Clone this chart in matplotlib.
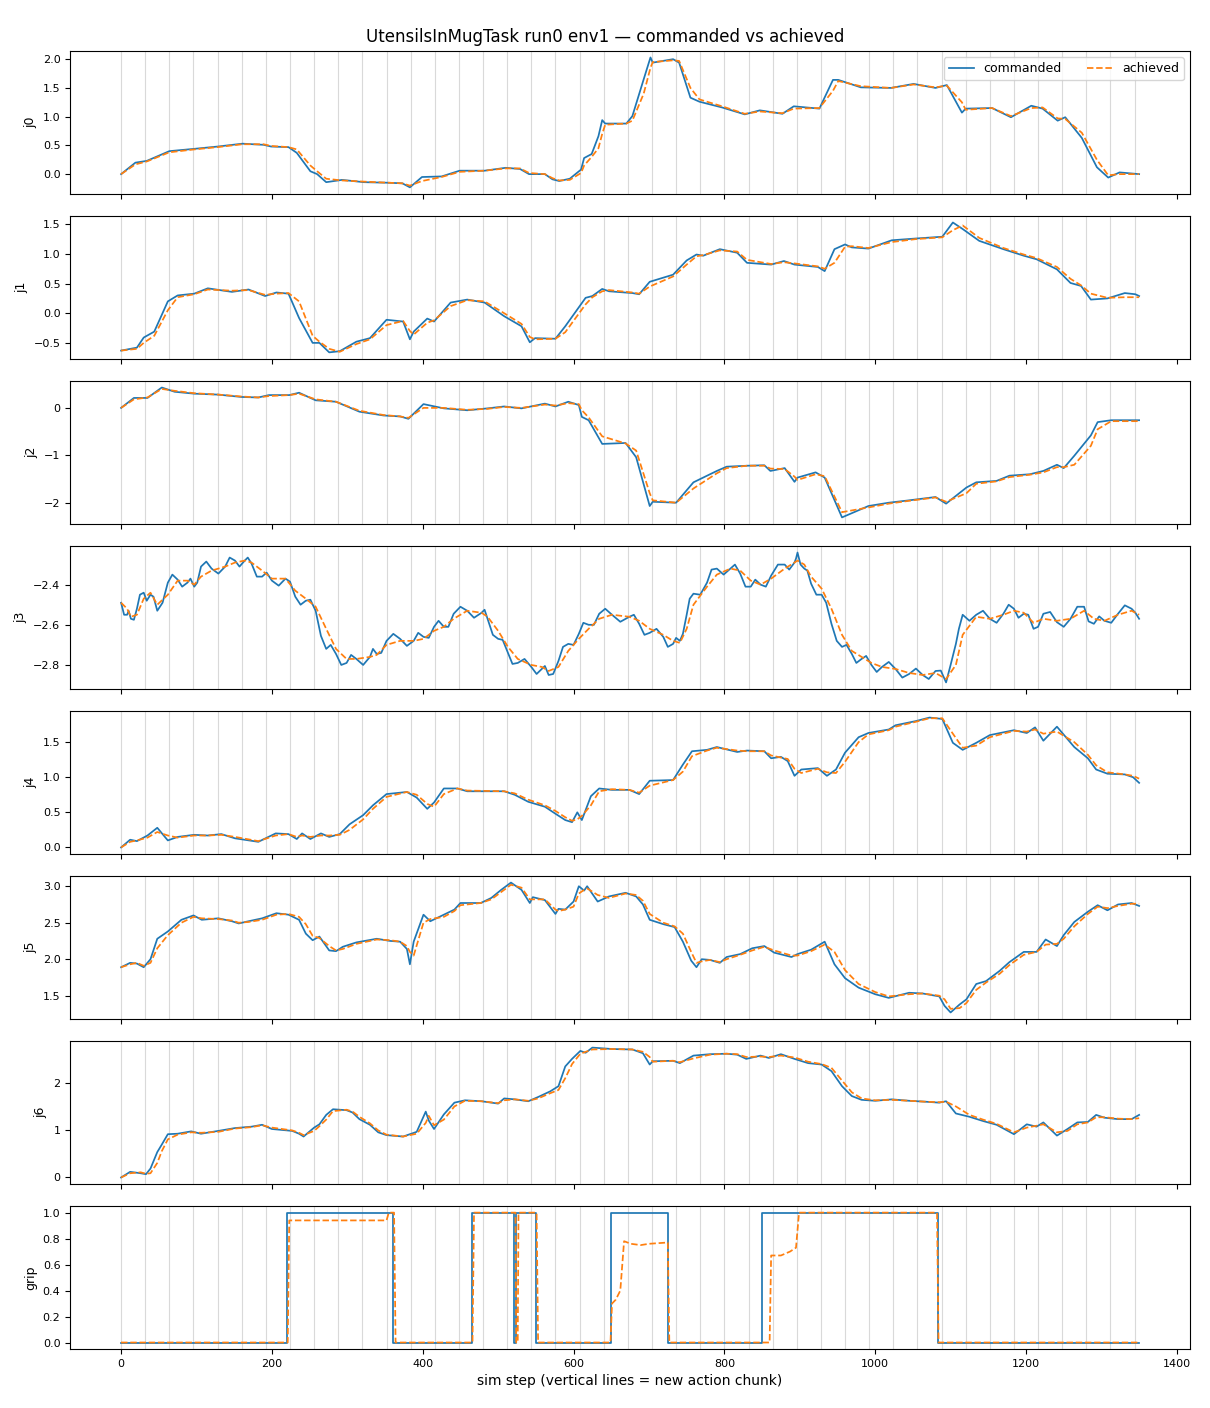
import numpy as np
import matplotlib
matplotlib.use("Agg")
import matplotlib.pyplot as plt

TITLE = "UtensilsInMugTask run0 env1 \u2014 commanded vs achieved"
XLABEL = "sim step (vertical lines = new action chunk)"
LABELS = ["j0", "j1", "j2", "j3", "j4", "j5", "j6", "grip"]
CHUNK = 32
N_STEPS = 1350

j0_steps = [0,19,34,64,97,128,161,189,199,222,233,251,260,272,293,322,355,373,383,399,425,449,482,510,529,541,562,572,581,595,610,614,624,633,638,642,670,678,693,702,705,732,740,755,767,797,827,847,877,892,926,944,951,981,1021,1051,1080,1095,1115,1120,1155,1180,1207,1222,1242,1252,1274,1294,1309,1324,1350]
j0_cmd = [0.0,0.20,0.23,0.40,0.44,0.48,0.53,0.51,0.48,0.47,0.37,0.05,0.0,-0.14,-0.10,-0.14,-0.15,-0.16,-0.23,-0.05,-0.04,0.06,0.06,0.11,0.09,0.0,0.0,-0.09,-0.12,-0.08,0.08,0.28,0.35,0.66,0.94,0.88,0.88,1.01,1.65,2.03,1.94,2.0,1.94,1.33,1.26,1.16,1.04,1.11,1.05,1.18,1.14,1.64,1.64,1.51,1.50,1.57,1.50,1.55,1.07,1.14,1.15,0.99,1.19,1.14,0.93,0.99,0.63,0.12,-0.06,0.03,0.0]
j0_ach = [0.0,0.17,0.22,0.38,0.43,0.47,0.52,0.52,0.49,0.47,0.43,0.15,0.05,-0.08,-0.11,-0.13,-0.15,-0.16,-0.20,-0.12,-0.05,0.04,0.06,0.10,0.10,0.02,0.0,-0.07,-0.11,-0.10,0.02,0.15,0.30,0.45,0.70,0.86,0.88,0.93,1.40,1.85,1.95,1.98,1.97,1.50,1.30,1.18,1.05,1.09,1.06,1.14,1.15,1.45,1.62,1.53,1.50,1.56,1.51,1.54,1.25,1.12,1.15,1.01,1.15,1.16,0.97,0.96,0.72,0.25,-0.02,0.0,0.0]

j1_steps = [0,21,30,44,62,75,97,115,147,169,191,206,222,236,254,263,276,290,312,330,352,374,383,388,406,415,437,459,482,508,531,542,549,576,589,616,625,638,647,678,687,701,732,750,763,772,794,817,830,862,879,893,924,933,946,960,969,991,1022,1054,1089,1103,1116,1138,1170,1197,1214,1241,1259,1273,1286,1308,1331,1345,1350]
j1_cmd = [-0.63,-0.58,-0.41,-0.31,0.20,0.30,0.33,0.42,0.36,0.40,0.29,0.35,0.33,-0.08,-0.50,-0.50,-0.66,-0.64,-0.48,-0.42,-0.11,-0.14,-0.44,-0.31,-0.09,-0.14,0.18,0.23,0.18,-0.05,-0.22,-0.49,-0.42,-0.43,-0.22,0.26,0.29,0.41,0.37,0.34,0.32,0.53,0.65,0.89,0.99,0.97,1.08,1.02,0.85,0.82,0.88,0.82,0.78,0.71,1.08,1.16,1.11,1.09,1.23,1.26,1.29,1.53,1.42,1.22,1.08,0.97,0.91,0.74,0.51,0.46,0.23,0.25,0.34,0.32,0.29]
j1_ach = [-0.63,-0.60,-0.50,-0.38,0.05,0.27,0.32,0.40,0.38,0.39,0.31,0.33,0.34,0.20,-0.38,-0.48,-0.60,-0.65,-0.52,-0.44,-0.20,-0.13,-0.30,-0.36,-0.16,-0.12,0.12,0.22,0.20,0.0,-0.18,-0.40,-0.44,-0.43,-0.32,0.15,0.27,0.37,0.39,0.35,0.33,0.45,0.62,0.82,0.96,0.98,1.06,1.04,0.90,0.83,0.86,0.84,0.79,0.75,0.85,1.12,1.13,1.10,1.20,1.25,1.28,1.40,1.48,1.27,1.10,0.99,0.93,0.78,0.58,0.47,0.33,0.26,0.27,0.27,0.27]

j2_steps = [0,17,35,54,71,97,129,160,182,196,223,236,258,285,316,348,370,381,401,428,459,486,508,531,562,576,593,607,611,620,638,669,683,701,705,736,759,790,803,830,853,861,880,893,897,921,933,956,991,1018,1045,1080,1094,1121,1134,1161,1178,1205,1223,1241,1250,1264,1286,1295,1313,1350]
j2_cmd = [0.0,0.21,0.21,0.43,0.34,0.30,0.28,0.23,0.22,0.27,0.27,0.32,0.16,0.13,-0.08,-0.16,-0.18,-0.23,0.08,-0.01,-0.05,-0.01,0.03,-0.01,0.09,0.03,0.13,0.06,-0.19,-0.26,-0.76,-0.74,-1.04,-2.07,-1.98,-2.0,-1.57,-1.33,-1.24,-1.22,-1.21,-1.33,-1.27,-1.56,-1.47,-1.36,-1.47,-2.31,-2.07,-2.00,-1.95,-1.88,-2.02,-1.68,-1.57,-1.54,-1.43,-1.40,-1.33,-1.20,-1.27,-1.01,-0.58,-0.30,-0.26,-0.26]
j2_ach = [0.0,0.18,0.22,0.40,0.36,0.31,0.28,0.24,0.22,0.25,0.27,0.30,0.18,0.13,-0.06,-0.15,-0.18,-0.21,0.0,0.0,-0.04,-0.02,0.02,0.0,0.07,0.05,0.10,0.08,-0.05,-0.20,-0.60,-0.75,-0.90,-1.80,-1.95,-2.0,-1.70,-1.38,-1.27,-1.22,-1.22,-1.28,-1.29,-1.45,-1.52,-1.40,-1.44,-2.20,-2.10,-2.02,-1.96,-1.89,-1.98,-1.80,-1.60,-1.55,-1.46,-1.41,-1.36,-1.25,-1.25,-1.20,-0.80,-0.45,-0.28,-0.28]

j3_cmd_steps = [0,4,8,10,13,17,21,25,30,34,39,43,48,55,62,68,75,81,88,92,97,101,106,113,120,129,138,144,151,157,164,168,173,180,187,193,200,209,218,224,231,238,245,251,258,265,272,278,285,292,299,305,312,321,330,334,339,345,352,361,370,379,388,394,401,408,415,421,428,434,441,450,459,468,478,482,486,493,500,506,513,519,526,535,544,551,558,562,567,573,580,586,593,600,607,613,620,627,634,642,651,662,674,680,687,694,701,710,719,725,732,736,741,745,750,754,759,768,777,783,790,799,808,814,821,828,835,841,848,855,862,871,880,886,893,895,897,901,906,910,915,922,929,935,942,949,956,962,969,975,982,988,995,1002,1009,1018,1027,1036,1045,1054,1063,1071,1080,1087,1094,1100,1107,1111,1116,1125,1134,1143,1152,1161,1170,1177,1184,1190,1197,1203,1210,1216,1223,1232,1241,1250,1259,1268,1277,1283,1290,1297,1304,1313,1322,1331,1340,1345,1350]
j3_cmd = [-2.49,-2.55,-2.55,-2.53,-2.57,-2.575,-2.52,-2.45,-2.44,-2.48,-2.45,-2.46,-2.53,-2.49,-2.39,-2.35,-2.375,-2.41,-2.39,-2.37,
          -2.41,-2.39,-2.31,-2.285,-2.32,-2.345,-2.31,-2.265,-2.28,-2.31,-2.28,-2.265,-2.295,-2.36,-2.36,-2.34,-2.38,-2.405,-2.37,-2.385,
          -2.46,-2.50,-2.48,-2.475,-2.53,-2.655,-2.72,-2.70,-2.745,-2.80,-2.79,-2.75,-2.77,-2.80,-2.76,-2.72,-2.745,-2.74,-2.68,-2.645,
          -2.67,-2.705,-2.68,-2.64,-2.66,-2.665,-2.61,-2.58,-2.61,-2.61,-2.545,-2.51,-2.53,-2.565,-2.54,-2.525,-2.57,-2.65,-2.67,-2.675,
          -2.74,-2.795,-2.79,-2.77,-2.81,-2.845,-2.82,-2.805,-2.85,-2.845,-2.78,-2.71,-2.695,-2.70,-2.645,-2.59,-2.60,-2.60,-2.545,-2.52,
          -2.55,-2.585,-2.56,-2.55,-2.595,-2.65,-2.64,-2.62,-2.66,-2.71,-2.695,-2.665,-2.68,-2.645,-2.55,-2.47,-2.445,-2.45,-2.39,-2.325,
          -2.32,-2.35,-2.32,-2.30,-2.345,-2.41,-2.41,-2.375,-2.40,-2.41,-2.355,-2.30,-2.30,-2.325,-2.29,-2.27,-2.24,-2.30,-2.32,-2.33,
          -2.395,-2.45,-2.45,-2.49,-2.595,-2.68,-2.71,-2.70,-2.745,-2.79,-2.77,-2.755,-2.80,-2.835,-2.81,-2.785,-2.82,-2.863,-2.845,-2.818,
          -2.85,-2.87,-2.83,-2.828,-2.887,-2.80,-2.695,-2.62,-2.55,-2.58,-2.55,-2.53,-2.57,-2.59,-2.545,-2.50,-2.52,-2.565,-2.545,-2.55,
          -2.62,-2.61,-2.545,-2.536,-2.587,-2.61,-2.57,-2.51,-2.51,-2.583,-2.595,-2.558,-2.58,-2.59,-2.545,-2.503,-2.52,-2.54,-2.57]
j3_ach_steps = [0,8,13,21,30,39,48,62,75,88,97,106,120,138,151,164,173,187,200,218,231,245,258,272,285,299,312,330,339,352,370,388,401,415,428,441,459,478,486,500,513,526,544,558,567,580,593,607,620,634,651,674,687,701,719,732,741,750,759,777,790,808,821,835,848,862,880,893,897,906,915,929,942,956,969,982,995,1009,1027,1045,1063,1080,1094,1107,1116,1134,1152,1170,1184,1197,1210,1223,1241,1259,1277,1290,1304,1322,1340,1350]
j3_ach = [-2.49,-2.52,-2.56,-2.55,-2.47,-2.44,-2.50,-2.45,-2.38,-2.38,
          -2.40,-2.36,-2.33,-2.31,-2.29,-2.28,-2.29,-2.33,-2.37,-2.37,
          -2.43,-2.47,-2.51,-2.62,-2.72,-2.77,-2.77,-2.76,-2.75,-2.70,
          -2.68,-2.68,-2.67,-2.63,-2.61,-2.57,-2.53,-2.54,-2.56,-2.63,
          -2.71,-2.77,-2.80,-2.81,-2.83,-2.81,-2.73,-2.67,-2.62,-2.57,
          -2.55,-2.56,-2.58,-2.62,-2.65,-2.68,-2.69,-2.62,-2.50,-2.41,
          -2.35,-2.32,-2.33,-2.38,-2.40,-2.37,-2.32,-2.29,-2.28,-2.30,
          -2.36,-2.42,-2.52,-2.65,-2.73,-2.76,-2.79,-2.81,-2.82,-2.84,
          -2.85,-2.84,-2.87,-2.80,-2.65,-2.56,-2.57,-2.55,-2.53,-2.54,
          -2.59,-2.57,-2.58,-2.57,-2.53,-2.57,-2.58,-2.55,-2.53,-2.55]

j4_steps = [0,12,21,35,48,62,75,97,115,133,151,182,205,222,233,240,251,265,276,290,303,321,334,352,379,392,406,415,428,446,459,508,522,540,562,576,589,598,605,611,623,634,651,674,687,701,732,745,757,777,790,817,830,853,862,875,884,893,902,924,936,948,960,978,991,1018,1027,1054,1072,1089,1103,1116,1134,1152,1184,1201,1212,1223,1241,1264,1282,1293,1308,1331,1342,1350]
j4_cmd = [0.0,0.11,0.09,0.17,0.28,0.10,0.15,0.18,0.17,0.19,
          0.13,0.08,0.20,0.19,0.12,0.20,0.12,0.20,0.15,0.19,
          0.33,0.46,0.60,0.76,0.79,0.71,0.55,0.64,0.84,0.84,
          0.80,0.80,0.75,0.65,0.58,0.48,0.39,0.36,0.50,0.39,
          0.73,0.84,0.82,0.82,0.76,0.95,0.96,1.18,1.37,1.39,
          1.43,1.36,1.38,1.37,1.27,1.29,1.23,1.02,1.11,1.13,
          1.02,1.11,1.35,1.57,1.63,1.68,1.74,1.80,1.85,1.83,
          1.49,1.39,1.49,1.60,1.67,1.63,1.71,1.52,1.72,1.43,
          1.27,1.11,1.05,1.04,1.00,0.92]
j4_ach = [0.0,0.08,0.10,0.14,0.22,0.17,0.14,0.17,0.17,0.18,
          0.15,0.09,0.17,0.19,0.15,0.17,0.15,0.17,0.17,0.18,
          0.25,0.40,0.55,0.72,0.79,0.75,0.62,0.58,0.76,0.84,
          0.81,0.80,0.77,0.68,0.60,0.52,0.43,0.38,0.40,0.45,
          0.60,0.80,0.83,0.82,0.78,0.88,0.96,1.08,1.30,1.38,
          1.42,1.38,1.37,1.37,1.31,1.28,1.26,1.12,1.06,1.12,
          1.07,1.06,1.22,1.50,1.61,1.67,1.72,1.79,1.84,1.84,
          1.62,1.42,1.45,1.57,1.66,1.65,1.68,1.62,1.65,1.50,
          1.32,1.17,1.07,1.04,1.02,0.98]

j5_steps = [0,12,21,30,39,48,62,80,96,107,129,147,156,169,187,206,222,236,245,254,263,276,285,294,312,339,357,370,379,383,388,401,410,428,442,450,477,491,504,517,531,542,546,562,576,580,589,600,607,614,618,632,647,669,683,692,701,719,734,745,756,763,770,781,794,803,821,837,853,866,889,897,915,933,946,960,978,1000,1018,1045,1063,1085,1092,1100,1112,1121,1134,1147,1165,1178,1197,1214,1226,1241,1250,1264,1282,1295,1308,1322,1340,1350]
j5_cmd = [1.89,1.95,1.94,1.89,2.00,2.28,2.38,2.54,2.60,2.54,
          2.56,2.52,2.49,2.52,2.56,2.63,2.61,2.54,2.35,2.26,
          2.31,2.12,2.11,2.17,2.23,2.28,2.25,2.24,2.14,1.93,
          2.24,2.61,2.52,2.61,2.68,2.77,2.77,2.84,2.95,3.05,
          2.95,2.77,2.85,2.81,2.62,2.69,2.68,2.79,3.00,2.94,
          3.00,2.79,2.86,2.91,2.86,2.75,2.54,2.48,2.44,2.24,
          1.98,1.89,2.00,1.99,1.95,2.03,2.07,2.15,2.18,2.09,
          2.03,2.07,2.13,2.24,1.93,1.74,1.61,1.52,1.47,1.54,
          1.53,1.49,1.36,1.27,1.38,1.45,1.66,1.70,1.84,1.96,
          2.10,2.10,2.27,2.18,2.33,2.51,2.65,2.74,2.67,2.75,
          2.77,2.73]
j5_ach = [1.89,1.93,1.95,1.91,1.95,2.15,2.33,2.50,2.58,2.56,
          2.55,2.53,2.50,2.51,2.54,2.61,2.62,2.58,2.48,2.32,
          2.29,2.18,2.12,2.14,2.21,2.27,2.26,2.24,2.18,2.10,
          2.05,2.50,2.55,2.58,2.66,2.74,2.77,2.82,2.92,3.02,
          2.98,2.82,2.82,2.82,2.68,2.66,2.68,2.72,2.90,2.95,
          2.97,2.88,2.84,2.90,2.88,2.80,2.62,2.50,2.45,2.35,
          2.10,1.95,1.97,1.99,1.96,2.00,2.06,2.12,2.17,2.12,
          2.05,2.05,2.11,2.20,2.10,1.85,1.66,1.55,1.49,1.52,
          1.53,1.50,1.45,1.32,1.33,1.40,1.58,1.68,1.80,1.92,
          2.06,2.10,2.20,2.21,2.28,2.45,2.62,2.72,2.70,2.73,
          2.76,2.76]

j6_steps = [0,12,26,33,39,48,54,62,75,93,106,129,151,173,187,200,227,236,242,256,263,272,281,299,307,316,330,341,352,374,392,404,408,415,428,442,456,478,500,508,522,540,553,569,580,589,598,609,616,625,651,678,692,701,705,732,741,759,781,803,817,829,848,859,875,893,911,929,942,956,969,982,1000,1022,1045,1067,1085,1094,1107,1125,1143,1161,1184,1201,1214,1223,1241,1255,1268,1282,1293,1304,1322,1340,1350]
j6_cmd = [-0.01,0.11,0.08,0.06,0.18,0.53,0.69,0.91,0.92,0.97,
          0.92,0.98,1.04,1.07,1.11,1.02,0.98,0.92,0.86,1.05,
          1.12,1.32,1.44,1.42,1.37,1.23,1.11,0.95,0.89,0.86,
          0.96,1.39,1.20,1.02,1.33,1.58,1.63,1.61,1.56,1.67,
          1.65,1.61,1.70,1.82,1.93,2.35,2.51,2.68,2.64,2.75,
          2.72,2.71,2.63,2.39,2.46,2.47,2.42,2.58,2.61,2.62,
          2.60,2.51,2.58,2.53,2.61,2.51,2.42,2.39,2.25,1.93,
          1.72,1.64,1.62,1.65,1.62,1.60,1.58,1.61,1.35,1.28,
          1.19,1.11,0.91,1.12,1.07,1.16,0.88,1.02,1.16,1.17,
          1.32,1.26,1.23,1.23,1.32]
j6_ach = [-0.01,0.08,0.10,0.07,0.08,0.30,0.55,0.80,0.90,0.95,
          0.94,0.96,1.03,1.06,1.10,1.05,0.99,0.94,0.89,0.98,
          1.08,1.22,1.40,1.43,1.39,1.28,1.14,0.99,0.90,0.86,
          0.92,1.15,1.30,1.10,1.22,1.50,1.62,1.61,1.57,1.63,
          1.65,1.62,1.67,1.78,1.85,2.10,2.40,2.62,2.66,2.71,
          2.72,2.71,2.66,2.55,2.45,2.47,2.44,2.52,2.60,2.62,
          2.61,2.55,2.56,2.55,2.58,2.54,2.45,2.40,2.32,2.05,
          1.80,1.67,1.63,1.64,1.62,1.60,1.59,1.60,1.50,1.32,
          1.22,1.13,0.95,1.05,1.09,1.12,0.95,0.98,1.12,1.16,
          1.27,1.27,1.24,1.23,1.25]

grip_cmd_steps = [0,220,361,466,521,524,550,649,725,850,1083,1350]
grip_cmd = [0,1,0,1,0,1,0,1,0,1,0,0]
grip_ach_steps = [0,221,223,352,355,362,364,466,468,523,524,526,527,551,553,649,651,656,662,667,676,689,700,725,727,860,862,875,887,895,899,1082,1084,1350]
grip_ach = [0,0,0.94,0.94,1.0,1.0,0,0,1.0,1.0,0,0,1.0,1.0,0,0,0.30,0.33,0.40,0.78,0.76,0.75,0.76,0.77,0,0,0.67,0.67,0.70,0.73,1.0,1.0,0,0]

joints = [
    (j0_steps, j0_cmd, j0_steps, j0_ach),
    (j1_steps, j1_cmd, j1_steps, j1_ach),
    (j2_steps, j2_cmd, j2_steps, j2_ach),
    (j3_cmd_steps, j3_cmd, j3_ach_steps, j3_ach),
    (j4_steps, j4_cmd, j4_steps, j4_ach),
    (j5_steps, j5_cmd, j5_steps, j5_ach),
    (j6_steps, j6_cmd, j6_steps, j6_ach),
]

fig, axes = plt.subplots(8, 1, figsize=(12.1, 14.08), dpi=100, sharex=True)
fig.subplots_adjust(left=0.058, right=0.9835, top=0.9638, bottom=0.0419, hspace=0.155)

chunk_lines = np.arange(0, N_STEPS, CHUNK)

for i, ax in enumerate(axes):
    for b in chunk_lines:
        ax.axvline(b, color="#d9d9d9", lw=0.8, zorder=0)
    if i < 7:
        sc, c, sa, a = joints[i]
        ax.plot(sc, c, color="C0", lw=1.25, label="commanded")
        ax.plot(sa, a, color="C1", lw=1.25, ls="--", label="achieved")
    else:
        ax.plot(grip_cmd_steps, grip_cmd, color="C0", lw=1.25, drawstyle="steps-post", label="commanded")
        ax.plot(grip_ach_steps, grip_ach, color="C1", lw=1.25, ls="--", label="achieved")
    ax.set_ylabel(LABELS[i], fontsize=9)
    ax.tick_params(labelsize=8)

axes[0].legend(loc="upper right", ncol=2, fontsize=9)
axes[-1].set_xlabel(XLABEL, fontsize=10)
fig.suptitle(TITLE, fontsize=12, y=0.980)

fig.savefig("out.png", dpi=100)
